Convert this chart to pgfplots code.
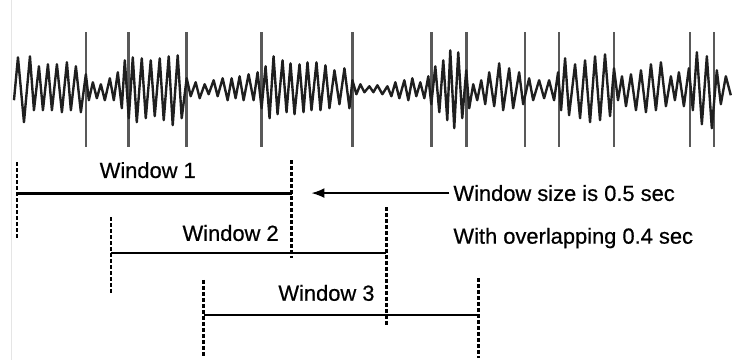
\documentclass[border=0pt]{standalone}
\usepackage{pgfplots}
\pgfplotsset{compat=1.18}
\usepackage{pgfplotstable}
\usepackage{fontspec}
\setmainfont{Liberation Sans}[FakeBold=0.6]
\usetikzlibrary{arrows.meta}

% EEG-like trace (x in px along the strip, y in px downwards)
\pgfplotstableread{
x y
14 100
18 57
24 122
30 56
34 110
39 66
43 110
48 64
52 110
57 64
62 112
67 62
71 110
76 66
81 112
86 74
89 100
93 82
97 98
101 84
105 100
110 78
114 100
118 72
122 108
125 60
129 118
133 57
137 122
142 58
146 118
151 60
155 116
160 58
164 120
169 56
173 125
178 55
182 118
187 78
191 96
196 82
200 98
205 84
209 94
214 80
218 96
223 78
228 100
232 78
236 98
240 76
244 100
249 74
254 100
258 72
262 108
266 66
270 118
274 56
278 114
283 60
287 112
291 63
295 114
300 64
304 112
308 62
312 110
317 62
321 110
326 65
330 108
335 70
340 104
345 68
350 108
353 80
357 94
361 84
365 92
370 86
374 92
378 85
383 94
388 86
392 96
396 82
400 98
405 80
409 100
413 78
417 96
421 82
425 98
429 76
432 104
436 66
440 112
444 60
448 120
451 50
455 128
459 52
463 118
467 70
470 108
474 84
478 100
482 80
486 104
490 72
495 106
500 63
504 110
510 68
514 108
520 72
524 104
530 78
534 100
540 80
545 98
550 80
555 100
559 72
562 110
566 58
570 115
576 64
581 118
586 60
591 122
596 56
601 120
606 54
611 116
615 68
619 100
623 76
627 106
632 74
637 110
642 70
647 112
652 64
657 110
662 62
667 106
672 76
676 100
680 72
685 106
690 68
694 110
698 52
703 124
708 56
713 128
718 70
722 104
727 76
732 95
}\signal

% spike markers (pairs of end points, separated by gaps)
\pgfplotstableread{
x y
86 32
86 147
86 nan
129 32
129 147
129 nan
187 32
187 147
187 nan
262 32
262 147
262 nan
353 32
353 147
353 nan
432 32
432 147
432 nan
467 32
467 147
467 nan
526 32
526 147
526 nan
560 32
560 147
560 nan
615 32
615 147
615 nan
691 32
691 147
691 nan
715 32
715 147
}\spikes

\begin{document}
\begin{tikzpicture}
\begin{axis}[
  width=732bp, height=360bp, scale only axis,
  xmin=0, xmax=732, ymin=0, ymax=360, y dir=reverse,
  hide axis, clip=false,
  unbounded coords=jump,
]
\path (rel axis cs:0,0) rectangle (rel axis cs:1,1);

% faint frame edge on the left
\addplot[black!10, line width=0.8bp] coordinates {(11,0) (11,360)};

% trace and spikes
\addplot[black!65, line width=2.6bp] table {\spikes};
\addplot[black!88, line width=2.4bp, line join=round] table {\signal};

% window boundaries
\tikzset{wb/.style={black, line width=2.6bp, dash pattern=on 4bp off 2bp}}
\addplot[wb] coordinates {(17,162) (17,240)};
\addplot[wb] coordinates {(292,160) (292,258)};
\addplot[wb] coordinates {(111,217) (111,295)};
\addplot[wb] coordinates {(387,207) (387,327)};
\addplot[wb] coordinates {(204,280) (204,358)};
\addplot[wb] coordinates {(479,278) (479,358)};

% window spans
\addplot[black, line width=3bp] coordinates {(17,193) (292,193)};
\addplot[black, line width=2.2bp] coordinates {(111,253) (387,253)};
\addplot[black, line width=2.2bp] coordinates {(204,315) (479,315)};

% pointer arrow
\addplot[black, line width=1.6bp, -{Latex[length=13bp,width=10bp]}] coordinates {(450,193) (312,193)};

% labels
\tikzset{lbl/.style={font=\fontsize{22}{26}\selectfont, inner sep=0pt, text=black}}
\node[lbl] at (axis cs:148,170) {Window 1};
\node[lbl] at (axis cs:231,233) {Window 2};
\node[lbl] at (axis cs:327,293) {Window 3};
\node[lbl, anchor=west] at (axis cs:454,193) {Window size is 0.5 sec};
\node[lbl, anchor=west] at (axis cs:454,238) {With overlapping 0.4 sec};
\end{axis}
\end{tikzpicture}
\end{document}
